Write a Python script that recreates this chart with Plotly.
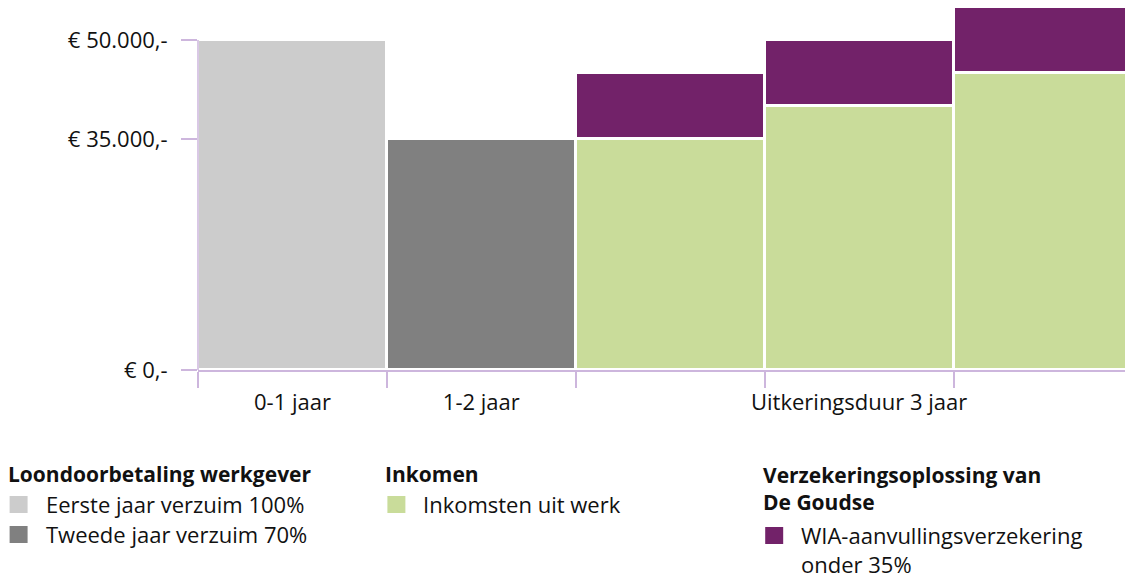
import plotly.graph_objects as go

# ---- data ----
periods = ["0-1 jaar", "1-2 jaar", "jaar 3 (a)", "Uitkeringsduur 3 jaar", "jaar 3 (c)"]
period_labels = ["0-1 jaar", "1-2 jaar", "", "Uitkeringsduur 3 jaar", ""]
jaar1_100 = [50000, None, None, None, None]
jaar2_70 = [None, 35000, None, None, None]
inkomsten_werk = [None, None, 35000, 40000, 45000]
wia_aanvulling = [None, None, 10000, 10000, 10000]
y_ticks = [0, 35000, 50000]
y_ticktext = ["€ 0,-", "€ 35.000,-", "€ 50.000,-"]

C_LGRAY = "#cccccc"
C_DGRAY = "#808080"
C_GREEN = "#c9dc9a"
C_PURPLE = "#722269"
C_AXIS = "#cdb6dd"
FONT = "Open Sans"
FS = 22
FSB = 21

OFF = 8  # page body margin
W, H = 1133 - OFF, 576 - OFF
ML, MR, MT, MB = 197.5 - OFF, 0, 0, 576 - 370
PW, PH = W - ML - MR, H - MT - MB

def px(x):
    return (x - OFF - ML) / PW

def py(y):
    return (H - MB - (y - OFF)) / PH

fig = go.Figure()
line = dict(color="white", width=2.6)
fig.add_bar(x=periods, y=jaar1_100, marker=dict(color=C_LGRAY, line=line), name="Eerste jaar verzuim 100%")
fig.add_bar(x=periods, y=jaar2_70, marker=dict(color=C_DGRAY, line=line), name="Tweede jaar verzuim 70%")
fig.add_bar(x=periods, y=inkomsten_werk, marker=dict(color=C_GREEN, line=line), name="Inkomsten uit werk")
fig.add_bar(x=periods, y=wia_aanvulling, marker=dict(color=C_PURPLE, line=line), name="WIA-aanvullingsverzekering onder 35%")

shapes = [
    dict(type="line", xref="paper", yref="y", x0=0, x1=0, y0=0, y1=50000,
         line=dict(color=C_AXIS, width=1.5), layer="above"),
]

annotations = []
def txt(x, y, s, bold=False):
    annotations.append(dict(
        xref="paper", yref="paper", x=px(x), y=py(y), xanchor="left", yanchor="middle",
        align="left",
        text=("<b>%s</b>" % s) if bold else s, showarrow=False,
        font=dict(family=FONT, size=FSB if bold else FS, color="#111111")))

def sq(x, y, c):
    shapes.append(dict(type="rect", xref="paper", yref="paper",
                       x0=px(x), x1=px(x + 18), y0=py(y + 17), y1=py(y),
                       fillcolor=c, line=dict(width=0)))

txt(5, 474, "Loondoorbetaling werkgever", True)
sq(9, 496, C_LGRAY); txt(43, 504, "Eerste jaar verzuim 100%")
sq(9, 526, C_DGRAY); txt(43, 534, "Tweede jaar verzuim 70%")

txt(383, 474, "Inkomen", True)
sq(387, 496, C_GREEN); txt(421, 504, "Inkomsten uit werk")

txt(761, 489, "Verzekeringsoplossing van<br>De Goudse", True)
sq(765, 527, C_PURPLE); txt(799, 549, "WIA-aanvullingsverzekering<br>onder 35%")

fig.update_layout(
    width=W, height=H,
    margin=dict(l=ML, r=MR, t=MT, b=MB, pad=0),
    barmode="stack", bargap=0,
    showlegend=False,
    plot_bgcolor="white", paper_bgcolor="white",
    font=dict(family=FONT, size=FS, color="#111111"),
    shapes=shapes, annotations=annotations,
    xaxis=dict(type="category", range=[-0.5, 4.45], tickson="boundaries",
               tickvals=periods, ticktext=period_labels, tickangle=0,
               ticks="outside", ticklen=16, tickwidth=1.5, tickcolor=C_AXIS,
               showline=True, linecolor=C_AXIS, linewidth=1.5,
               showgrid=False, zeroline=False, ticklabelstandoff=12,
               tickfont=dict(family=FONT, size=FS, color="#111111")),
    yaxis=dict(range=[0, 54850], tickvals=y_ticks, ticktext=y_ticktext,
               ticks="outside", ticklen=16, tickwidth=1.5, tickcolor=C_AXIS,
               showline=False, showgrid=False, zeroline=False,
               ticklabelstandoff=9,
               tickfont=dict(family=FONT, size=FS, color="#111111")),
)

fig.write_html("out.html")
